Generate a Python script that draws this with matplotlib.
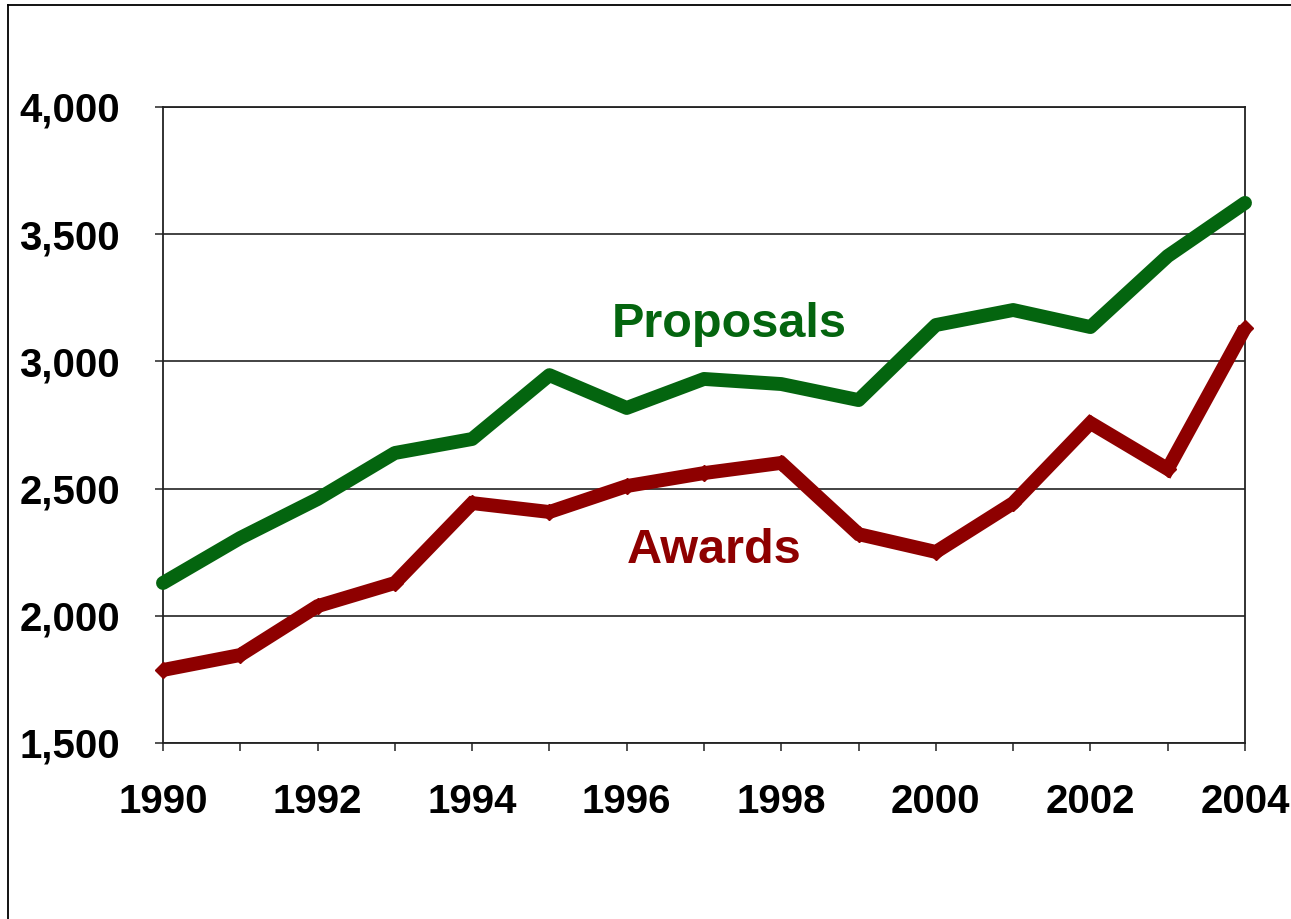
import matplotlib
matplotlib.use("Agg")
import matplotlib.pyplot as plt
from matplotlib.ticker import FuncFormatter, MultipleLocator
from matplotlib.lines import Line2D

years = list(range(1990, 2005))
proposals = [2129, 2306, 2459, 2640, 2695, 2946, 2817, 2931, 2911, 2848, 3143, 3202, 3135, 3414, 3623]
awards = [1787, 1846, 2038, 2129, 2443, 2408, 2510, 2561, 2601, 2321, 2251, 2443, 2758, 2577, 3131]
x_tick_labels = [str(y) if y % 2 == 0 else "" for y in years]

plt.rcParams['font.family'] = ['Liberation Sans', 'DejaVu Sans']

fig = plt.figure(figsize=(12.91, 9.19), dpi=100)
ax = fig.add_axes([163/1291, 1-743/919, (1245-163)/1291, (743-107)/919])

green = '#04650f'
red = '#8e0000'
ax.plot(years, proposals, color=green, lw=10, solid_capstyle='round',
        solid_joinstyle='round', zorder=3, clip_on=False)
ax.plot(years, awards, color=red, lw=10, solid_capstyle='butt',
        solid_joinstyle='miter', marker='D', ms=8, zorder=3, clip_on=False)

ax.set_xlim(1990, 2004)
ax.set_ylim(1500, 4000)
ax.yaxis.set_major_locator(MultipleLocator(500))
ax.yaxis.set_major_formatter(FuncFormatter(lambda v, p: f"{int(v):,}"))
ax.set_xticks(years)
ax.set_xticklabels(x_tick_labels)
ax.grid(axis='y', color='#222222', lw=1.2, zorder=1)
ax.set_axisbelow(True)
for s in ax.spines.values():
    s.set_color('#222222')
    s.set_linewidth(1.3)
ax.tick_params(axis='both', direction='out', length=6, width=1.3, color='#444444',
               labelsize=29)
for lab in ax.get_xticklabels() + ax.get_yticklabels():
    lab.set_fontweight('bold')
ax.tick_params(axis='x', pad=23)
ax.tick_params(axis='y', pad=25)

ax.text(1997.33, 3145, "Proposals", color=green, fontsize=35, fontweight='bold',
        ha='center', va='center')
ax.text(1997.13, 2255, "Awards", color=red, fontsize=35, fontweight='bold',
        ha='center', va='center')

# outer frame
fig.add_artist(Line2D([8/1291, 8/1291], [0, 1-5/919], transform=fig.transFigure, color='black', lw=1.3))
fig.add_artist(Line2D([8/1291, 1], [1-5/919, 1-5/919], transform=fig.transFigure, color='black', lw=1.3))

fig.savefig("out.png", dpi=100)
